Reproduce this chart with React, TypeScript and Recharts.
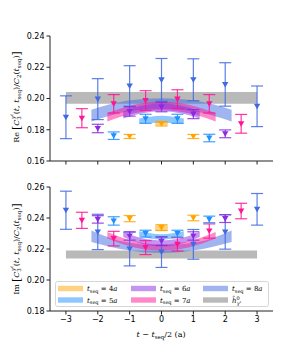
import React from 'react';
import { ComposedChart, Scatter, ErrorBar, Area, XAxis, YAxis, ReferenceArea } from 'recharts';

// ---------- data ----------
const xTicks = [-3, -2, -1, 0, 1, 2, 3];
const reTicks = [0.16, 0.18, 0.2, 0.22, 0.24];
const imTicks = [0.18, 0.2, 0.22, 0.24, 0.26];

const x4 = [-1, 0, 1];
const x5 = [-1.5, -0.5, 0.5, 1.5];
const x6 = [-2, -1, 0, 1, 2];
const x7 = [-2.5, -1.5, -0.5, 0.5, 1.5, 2.5];
const x8 = [-3, -2, -1, 0, 1, 2, 3];

const re4 = [0.1757, 0.1838, 0.1757];
const re4Err = [0.0013, 0.0014, 0.0013];
const re5 = [0.1762, 0.187, 0.187, 0.1747];
const re5Err = [0.0024, 0.0029, 0.0029, 0.0024];
const re6 = [0.1808, 0.1917, 0.1945, 0.19, 0.1774];
const re6Err = [0.0027, 0.003, 0.003, 0.0029, 0.0025];
const re7 = [0.1874, 0.1966, 0.1987, 0.1996, 0.1966, 0.1838];
const re7Err = [0.0061, 0.0059, 0.0063, 0.006, 0.0059, 0.006];
const re8 = [0.188, 0.1996, 0.208, 0.2119, 0.212, 0.209, 0.195];
const re8Err = [0.0137, 0.0131, 0.013, 0.0137, 0.0134, 0.0139, 0.013];

const im4 = [0.2396, 0.2338, 0.24];
const im4Err = [0.002, 0.0019, 0.0018];
const im5 = [0.2381, 0.2299, 0.2299, 0.2391];
const im5Err = [0.0027, 0.0022, 0.0022, 0.0021];
const im6 = [0.2391, 0.2284, 0.225, 0.2284, 0.2396];
const im6Err = [0.0024, 0.0027, 0.0027, 0.0027, 0.0025];
const im7 = [0.2385, 0.2267, 0.2209, 0.223, 0.2316, 0.2445];
const im7Err = [0.0052, 0.0047, 0.0045, 0.0043, 0.0046, 0.005];
const im8 = [0.245, 0.231, 0.22, 0.218, 0.223, 0.231, 0.2456];
const im8Err = [0.0123, 0.0114, 0.0109, 0.0099, 0.0096, 0.0111, 0.0102];

// fit bands (x, low, high)
const b4x = [-0.2, 0, 0.2];
const b5x = [-0.7, 0, 0.7];
const b6x = [-1.2, -0.6, 0, 0.6, 1.2];
const b7x = [-1.7, -0.85, 0, 0.85, 1.7];
const b8x = [-2.2, -1.1, 0, 1.1, 2.2];

const reB4Lo = [0.1828, 0.1827, 0.1828];
const reB4Hi = [0.1856, 0.1857, 0.1856];
const reB5Lo = [0.1838, 0.1845, 0.1838];
const reB5Hi = [0.1872, 0.189, 0.1872];
const reB6Lo = [0.1872, 0.1905, 0.1918, 0.1905, 0.1872];
const reB6Hi = [0.1917, 0.1955, 0.1968, 0.1955, 0.1917];
const reB7Lo = [0.1853, 0.1905, 0.1925, 0.1905, 0.1853];
const reB7Hi = [0.1907, 0.196, 0.198, 0.196, 0.1907];
const reB8Lo = [0.1853, 0.1915, 0.1935, 0.1915, 0.1853];
const reB8Hi = [0.1928, 0.1985, 0.2002, 0.1985, 0.1928];

const imB4Lo = [0.2316, 0.2316, 0.2316];
const imB4Hi = [0.2353, 0.2353, 0.2353];
const imB5Lo = [0.2282, 0.226, 0.2282];
const imB5Hi = [0.2314, 0.2295, 0.2314];
const imB6Lo = [0.2277, 0.2232, 0.2217, 0.2232, 0.2277];
const imB6Hi = [0.231, 0.227, 0.2256, 0.227, 0.231];
const imB7Lo = [0.2267, 0.221, 0.2191, 0.221, 0.2267];
const imB7Hi = [0.231, 0.225, 0.223, 0.225, 0.231];
const imB8Lo = [0.2245, 0.2193, 0.2174, 0.2193, 0.2245];
const imB8Hi = [0.232, 0.2243, 0.2224, 0.2243, 0.232];

const grayX = [-3, 3];
const reGray = [0.1966, 0.2042];
const imGray = [0.2138, 0.2191];

const colors = { c4: '#FFA500', c5: '#1E90FF', c6: '#8A2BE2', c7: '#FF1493', c8: '#4169E1' };

// ---------- helpers ----------
const pts = (xs: number[], ys: number[], es: number[]) => xs.map((x, i) => ({ x, y: ys[i], e: es[i] }));
const band = (xs: number[], lo: number[], hi: number[]) => xs.map((x, i) => ({ x, r: [lo[i], hi[i]] }));

const TriDown = (color: string) => (p: any) => {
  const { cx, cy } = p;
  if (cx == null || cy == null) return <g />;
  const s = 3.2;
  return <polygon points={`${cx - s},${cy - s * 0.8} ${cx + s},${cy - s * 0.8} ${cx},${cy + s * 0.95}`} fill={color} />;
};

const fmtX = (v: number) => (v < 0 ? '\u2212' + Math.abs(v) : String(v));
const tickStyle = { fontFamily: 'DejaVu Sans', fontSize: 8, fill: '#000' };

type Series = { xs: number[]; ys: number[]; es: number[]; color: string };
type Band = { xs: number[]; lo: number[]; hi: number[]; color: string };

function Panel(props: {
  series: Series[];
  bands: Band[];
  gray: number[];
  domain: [number, number];
  ticks: number[];
  showXLabels: boolean;
  height: number;
  margin: any;
  xHeight: number;
}) {
  const { series, bands, gray, domain, ticks, showXLabels, height, margin, xHeight } = props;
  return (
    <ComposedChart width={292} height={height} margin={margin}>
      <XAxis
        xAxisId="b"
        dataKey="x"
        type="number"
        domain={[-3.5, 3.5]}
        ticks={xTicks}
        allowDuplicatedCategory={false}
        tickFormatter={showXLabels ? fmtX : () => ''}
        tick={tickStyle}
        tickSize={3.5}
        height={xHeight}
        stroke="#222"
        tickLine={{ stroke: '#222' }}
      />
      <XAxis xAxisId="t" orientation="top" type="number" domain={[-3.5, 3.5]} ticks={[]} height={0} stroke="#222" tick={false} />
      <YAxis
        yAxisId="l"
        type="number"
        domain={domain}
        ticks={ticks}
        tickFormatter={(v: number) => v.toFixed(2)}
        tick={tickStyle}
        tickSize={3.5}
        width={50}
        stroke="#222"
        allowDataOverflow
      />
      <YAxis yAxisId="r" orientation="right" type="number" domain={domain} ticks={[]} width={0} stroke="#222" tick={false} />
      <ReferenceArea
        xAxisId="b"
        yAxisId="l"
        x1={grayX[0]}
        x2={grayX[1]}
        y1={gray[0]}
        y2={gray[1]}
        fill="#808080"
        fillOpacity={0.55}
        stroke="none"
        ifOverflow="extendDomain"
      />
      {bands.map((b, i) => (
        <Area
          key={'b' + i}
          xAxisId="b"
          yAxisId="l"
          data={band(b.xs, b.lo, b.hi)}
          dataKey="r"
          type="monotone"
          fill={b.color}
          fillOpacity={0.5}
          stroke="none"
          isAnimationActive={false}
          dot={false}
          activeDot={false}
        />
      ))}
      {series.map((s, i) => (
        <Scatter
          key={'s' + i}
          xAxisId="b"
          yAxisId="l"
          data={pts(s.xs, s.ys, s.es)}
          dataKey="y"
          fill={s.color}
          shape={TriDown(s.color)}
          isAnimationActive={false}
        >
          <ErrorBar dataKey="e" direction="y" width={6} stroke={s.color} strokeWidth={1.2} strokeOpacity={0.85} isAnimationActive={false} />
        </Scatter>
      ))}
    </ComposedChart>
  );
}

const reSeries: Series[] = [
  { xs: x8, ys: re8, es: re8Err, color: colors.c8 },
  { xs: x7, ys: re7, es: re7Err, color: colors.c7 },
  { xs: x6, ys: re6, es: re6Err, color: colors.c6 },
  { xs: x5, ys: re5, es: re5Err, color: colors.c5 },
  { xs: x4, ys: re4, es: re4Err, color: colors.c4 },
];
const imSeries: Series[] = [
  { xs: x8, ys: im8, es: im8Err, color: colors.c8 },
  { xs: x7, ys: im7, es: im7Err, color: colors.c7 },
  { xs: x6, ys: im6, es: im6Err, color: colors.c6 },
  { xs: x5, ys: im5, es: im5Err, color: colors.c5 },
  { xs: x4, ys: im4, es: im4Err, color: colors.c4 },
];
const reBands: Band[] = [
  { xs: b8x, lo: reB8Lo, hi: reB8Hi, color: colors.c8 },
  { xs: b7x, lo: reB7Lo, hi: reB7Hi, color: colors.c7 },
  { xs: b6x, lo: reB6Lo, hi: reB6Hi, color: colors.c6 },
  { xs: b5x, lo: reB5Lo, hi: reB5Hi, color: colors.c5 },
  { xs: b4x, lo: reB4Lo, hi: reB4Hi, color: colors.c4 },
];
const imBands: Band[] = [
  { xs: b8x, lo: imB8Lo, hi: imB8Hi, color: colors.c8 },
  { xs: b7x, lo: imB7Lo, hi: imB7Hi, color: colors.c7 },
  { xs: b6x, lo: imB6Lo, hi: imB6Hi, color: colors.c6 },
  { xs: b5x, lo: imB5Lo, hi: imB5Hi, color: colors.c5 },
  { xs: b4x, lo: imB4Lo, hi: imB4Hi, color: colors.c4 },
];

const sub = 5.5;
function YLabel({ part, cx, cy }: { part: string; cx: number; cy: number }) {
  return (
    <text transform={`translate(${cx},${cy}) rotate(-90)`} textAnchor="middle" fontFamily="DejaVu Serif" fontSize={8} fill="#000">
      <tspan>{part}</tspan>
      <tspan fontSize={11} dx={2} dy={1}>[</tspan>
      <tspan fontStyle="italic" dy={-1}>C</tspan>
      <tspan fontSize={sub} dy={2}>3</tspan>
      <tspan fontSize={sub} fontStyle="italic" dx={-3} dy={-6}>γ</tspan>
      <tspan fontSize={4} fontStyle="italic" dy={-2}>t</tspan>
      <tspan dy={6}>(</tspan>
      <tspan fontStyle="italic">t</tspan>
      <tspan>, </tspan>
      <tspan fontStyle="italic">t</tspan>
      <tspan fontSize={sub} dy={2}>seq</tspan>
      <tspan dy={-2}>)/</tspan>
      <tspan fontStyle="italic">C</tspan>
      <tspan fontSize={sub} dy={2}>2</tspan>
      <tspan dy={-2}>(</tspan>
      <tspan fontStyle="italic">t</tspan>
      <tspan fontSize={sub} dy={2}>seq</tspan>
      <tspan dy={-2}>)</tspan>
      <tspan fontSize={11} dy={1}>]</tspan>
    </text>
  );
}

const legendItems = [
  { label: '4', color: colors.c4, col: 0, row: 0 },
  { label: '5', color: colors.c5, col: 0, row: 1 },
  { label: '6', color: colors.c6, col: 1, row: 0 },
  { label: '7', color: colors.c7, col: 1, row: 1 },
  { label: '8', color: colors.c8, col: 2, row: 0 },
];

function LegendBox() {
  const colX = [58, 131, 203];
  const rowY = [288.5, 300];
  const ff = 'DejaVu Serif';
  return (
    <g>
      <rect x={55.5} y={281.5} width={213} height={25} rx={2} fill="#fff" fillOpacity={0.85} stroke="#ccc" strokeWidth={0.8} />
      {legendItems.map((it, i) => (
        <g key={i}>
          <rect x={colX[it.col]} y={rowY[it.row] - 2.7} width={25} height={5.4} fill={it.color} fillOpacity={0.5} />
          <text x={colX[it.col] + 29} y={rowY[it.row] + 2.5} fontFamily={ff} fontSize={7} fill="#000">
            <tspan fontStyle="italic">t</tspan>
            <tspan fontSize={5} dy={1.5}>seq</tspan>
            <tspan dy={-1.5}> = {it.label}</tspan>
            <tspan fontStyle="italic">a</tspan>
          </text>
        </g>
      ))}
      <rect x={colX[2]} y={rowY[1] - 2.7} width={25} height={5.4} fill="#808080" fillOpacity={0.55} />
      <text x={colX[2] + 29} y={rowY[1] + 2.5} fontFamily={ff} fontSize={7} fill="#000">
        <tspan fontStyle="italic">h̃</tspan>
        <tspan fontSize={5} dy={-3}>0</tspan>
        <tspan fontSize={5} dx={-3} dy={5} fontStyle="italic">γ</tspan>
        <tspan fontSize={3.5} dy={-2} fontStyle="italic">t</tspan>
      </text>
    </g>
  );
}

export default function App() {
  return (
    <div style={{ position: 'absolute', left: 0, top: 0, width: 292, height: 354, background: '#fff' }}>
      <div style={{ position: 'absolute', left: 0, top: 0 }}>
        <Panel
          series={reSeries}
          bands={reBands}
          gray={reGray}
          domain={[0.16, 0.24]}
          ticks={reTicks}
          showXLabels={false}
          height={170}
          margin={{ top: 36, right: 19, bottom: 0, left: 0 }}
          xHeight={9}
        />
      </div>
      <div style={{ position: 'absolute', left: 0, top: 170 }}>
        <Panel
          series={imSeries}
          bands={imBands}
          gray={imGray}
          domain={[0.18, 0.26]}
          ticks={imTicks}
          showXLabels={true}
          height={184}
          margin={{ top: 17, right: 19, bottom: 13, left: 0 }}
          xHeight={30}
        />
      </div>
      <svg width={292} height={354} style={{ position: 'absolute', left: 0, top: 0, pointerEvents: 'none' }}>
        <YLabel part="Re" cx={19} cy={97} />
        <YLabel part="Im" cx={19} cy={249} />
        <text x={161} y={337} textAnchor="middle" fontFamily="DejaVu Serif" fontSize={8} fill="#000">
          <tspan fontStyle="italic">t</tspan>
          <tspan> − </tspan>
          <tspan fontStyle="italic">t</tspan>
          <tspan fontSize={5.5} dy={2}>seq</tspan>
          <tspan dy={-2}>/2  (a)</tspan>
        </text>
        <LegendBox />
      </svg>
    </div>
  );
}
